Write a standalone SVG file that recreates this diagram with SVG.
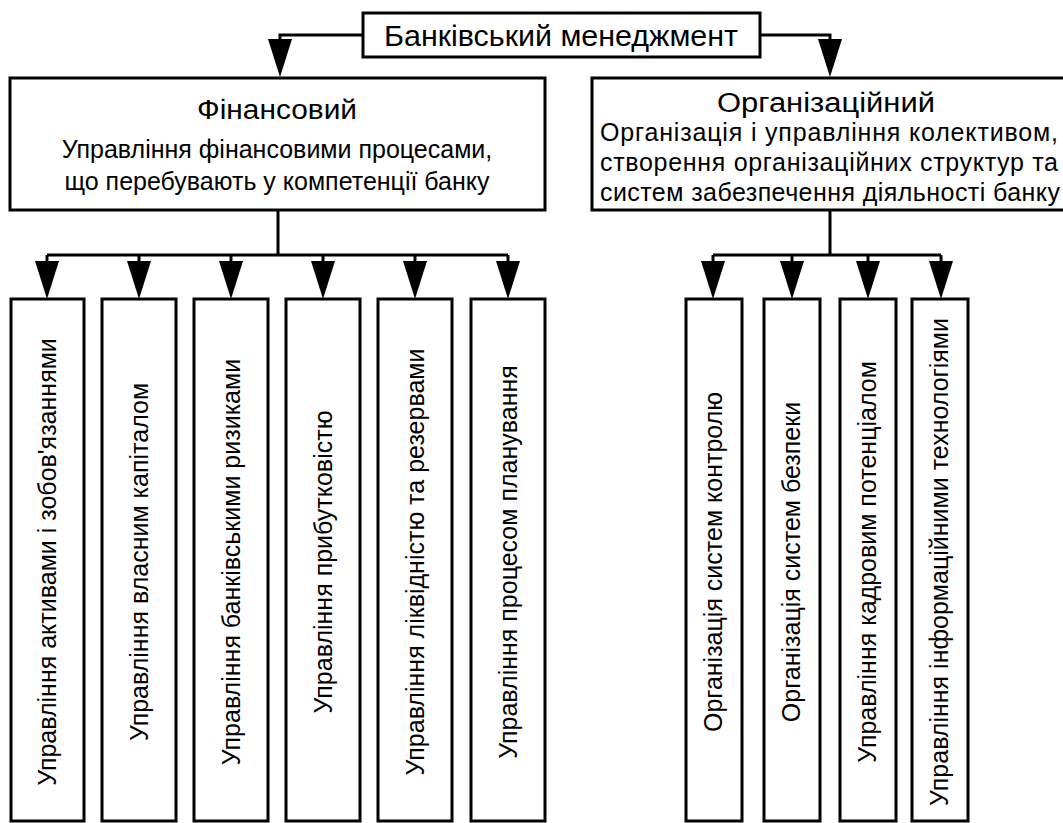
<svg xmlns="http://www.w3.org/2000/svg" width="1063" height="823" viewBox="0 0 1063 823">
<style>
.box{fill:#fff;stroke:#000;stroke-width:3}
.ln{fill:none;stroke:#000;stroke-width:3}
text{font-family:"Liberation Sans",Arial,sans-serif;fill:#000}
.t1{font-size:30px}
.tt{font-size:27px}
.tb{font-size:25px}
.tv{font-size:25px}
</style>
<defs>
<path id="arr" d="M-12,0 L12,0 L0,38 Z"/>
</defs>
<rect width="1063" height="823" fill="#fff"/>
<g id="connectors">
<polyline class="ln" points="363,35 280,35 280,45"/>
<use href="#arr" x="280" y="39"/>
<polyline class="ln" points="760,35 830,35 830,45"/>
<use href="#arr" x="830" y="39"/>
<line class="ln" x1="278" y1="210" x2="278" y2="255"/>
<line class="ln" x1="47" y1="255" x2="508" y2="255"/>
<line class="ln" x1="47" y1="255" x2="47" y2="265"/><use href="#arr" x="47" y="261"/>
<line class="ln" x1="139" y1="255" x2="139" y2="265"/><use href="#arr" x="139" y="261"/>
<line class="ln" x1="231" y1="255" x2="231" y2="265"/><use href="#arr" x="231" y="261"/>
<line class="ln" x1="323" y1="255" x2="323" y2="265"/><use href="#arr" x="323" y="261"/>
<line class="ln" x1="415" y1="255" x2="415" y2="265"/><use href="#arr" x="415" y="261"/>
<line class="ln" x1="508" y1="255" x2="508" y2="265"/><use href="#arr" x="508" y="261"/>
<line class="ln" x1="830" y1="210" x2="830" y2="255"/>
<line class="ln" x1="713" y1="255" x2="941" y2="255"/>
<line class="ln" x1="713" y1="255" x2="713" y2="265"/><use href="#arr" x="713" y="261"/>
<line class="ln" x1="792" y1="255" x2="792" y2="265"/><use href="#arr" x="792" y="261"/>
<line class="ln" x1="868" y1="255" x2="868" y2="265"/><use href="#arr" x="868" y="261"/>
<line class="ln" x1="941" y1="255" x2="941" y2="265"/><use href="#arr" x="941" y="261"/>
</g>
<g id="root">
<rect class="box" x="363" y="13" width="397" height="44"/>
<text class="t1" x="561" y="46" text-anchor="middle" textLength="354" lengthAdjust="spacingAndGlyphs">Банківський менеджмент</text>
</g>
<g id="fin">
<rect class="box" x="10" y="78" width="535" height="132"/>
<text class="tt" x="277" y="119" text-anchor="middle" textLength="160" lengthAdjust="spacingAndGlyphs">Фінансовий</text>
<text class="tb" x="277" y="158" text-anchor="middle">Управління фінансовими процесами,</text>
<text class="tb" x="277" y="190" text-anchor="middle">що перебувають у компетенції банку</text>
</g>
<g id="org">
<path class="ln" d="M1064,78 H592 V210 H1064"/>
<text class="tt" x="826" y="112" text-anchor="middle" textLength="218" lengthAdjust="spacingAndGlyphs">Організаційний</text>
<text class="tb" x="600" y="141" textLength="458" lengthAdjust="spacing">Організація і управління колективом,</text>
<text class="tb" x="600" y="171" textLength="458" lengthAdjust="spacing">створення організаційних структур та</text>
<text class="tb" x="600" y="201" textLength="460" lengthAdjust="spacing">систем забезпечення діяльності банку</text>
</g>
<g id="f1"><rect class="box" x="11" y="299" width="73" height="522"/><text class="tv" transform="translate(56,562) rotate(-90)" text-anchor="middle">Управління активами і зобов'язаннями</text></g>
<g id="f2"><rect class="box" x="102" y="299" width="74" height="522"/><text class="tv" transform="translate(148,562) rotate(-90)" text-anchor="middle">Управління власним капіталом</text></g>
<g id="f3"><rect class="box" x="194" y="299" width="74" height="522"/><text class="tv" transform="translate(240,562) rotate(-90)" text-anchor="middle">Управління банківськими ризиками</text></g>
<g id="f4"><rect class="box" x="286" y="299" width="74" height="522"/><text class="tv" transform="translate(332,562) rotate(-90)" text-anchor="middle">Управління прибутковістю</text></g>
<g id="f5"><rect class="box" x="378" y="299" width="74" height="522"/><text class="tv" transform="translate(424,562) rotate(-90)" text-anchor="middle">Управління ліквідністю та резервами</text></g>
<g id="f6"><rect class="box" x="471" y="299" width="74" height="522"/><text class="tv" transform="translate(517,562) rotate(-90)" text-anchor="middle">Управління процесом планування</text></g>
<g id="o1"><rect class="box" x="686" y="299" width="56" height="522"/><text class="tv" transform="translate(722,562) rotate(-90)" text-anchor="middle">Організація систем контролю</text></g>
<g id="o2"><rect class="box" x="764" y="299" width="56" height="522"/><text class="tv" transform="translate(800,562) rotate(-90)" text-anchor="middle">Організація систем безпеки</text></g>
<g id="o3"><rect class="box" x="840" y="299" width="56" height="522"/><text class="tv" transform="translate(876,562) rotate(-90)" text-anchor="middle">Управління кадровим потенціалом</text></g>
<g id="o4"><rect class="box" x="912" y="299" width="56" height="522"/><text class="tv" transform="translate(948,562) rotate(-90)" text-anchor="middle">Управління інформаційними технологіями</text></g>
</svg>
